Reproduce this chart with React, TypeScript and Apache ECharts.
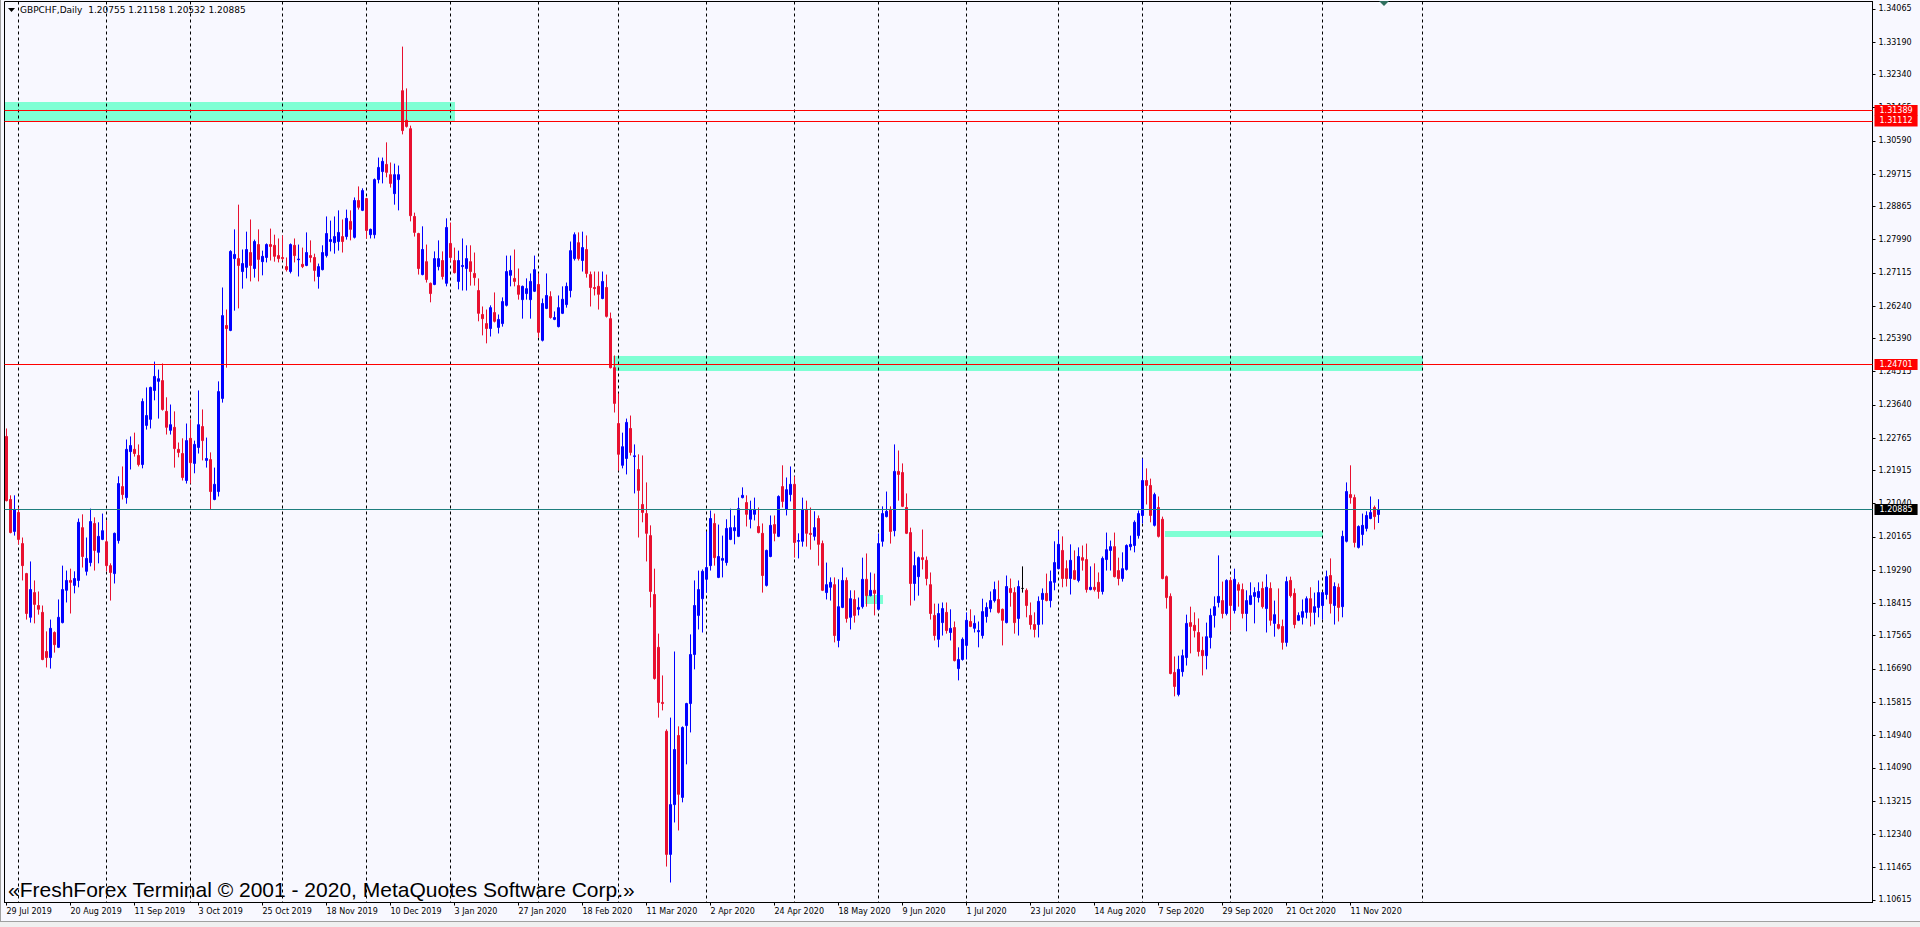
import React, { useEffect, useRef } from 'react';
import * as echarts from 'echarts';

// ---------- texts ----------
const symbolTitle = 'GBPCHF,Daily';
const headerValues = ['1.20755', '1.21158', '1.20532', '1.20885'];
const watermark = '«FreshForex Terminal © 2001 - 2020, MetaQuotes Software Corp.»';

// ---------- time scale ----------
const firstBarDate = '2019-07-29';
const lastBarDate = '2020-11-20';
const skippedDates = ['2019-12-25', '2020-01-01'];
const extraDates = ['2020-10-25'];
const slotCount = 467;
const labelEvery = 16;
const MONTHS = ['Jan', 'Feb', 'Mar', 'Apr', 'May', 'Jun', 'Jul', 'Aug', 'Sep', 'Oct', 'Nov', 'Dec'];

// ---------- price scale ----------
const yMin = 1.10544;
const yMax = 1.34257;
const priceTicks = [
  1.34065, 1.3319, 1.3234, 1.31465, 1.3059, 1.29715, 1.28865, 1.2799, 1.27115, 1.2624,
  1.2539, 1.24515, 1.2364, 1.22765, 1.21915, 1.2104, 1.20165, 1.1929, 1.18415, 1.17565,
  1.1669, 1.15815, 1.1494, 1.1409, 1.13215, 1.1234, 1.11465, 1.10615,
];

// ---------- levels & zones ----------
const redLevels = [1.31389, 1.31112, 1.24701];
const bidLevel = 1.20885;
// [from date, to date, top price, bottom price]
const zones: [string, string, number, number][] = [
  ['2019-07-29', '2020-01-03', 1.316, 1.311],
  ['2020-02-28', '2020-12-01', 1.2494, 1.2452],
  ['2020-09-09', '2020-11-02', 1.2031, 1.2016],
  ['2020-05-27', '2020-06-02', 1.1865, 1.1841],
];

// ---------- candles [open, close, low, high] ----------
const ohlcA = [
  [1.2281,1.2112,1.2110,1.2302],[1.2115,1.2028,1.2026,1.2126],[1.2031,1.2089,1.2020,1.2126],[1.2081,1.2010,1.1997,1.2094],
  [1.1999,1.1941,1.1902,1.2015],[1.1920,1.1815,1.1799,1.1922],[1.1805,1.1878,1.1791,1.1952],[1.1870,1.1839,1.1789,1.1902],
  [1.1836,1.1826,1.1812,1.1873],[1.1818,1.1694,1.1692,1.1836],[1.1715,1.1699,1.1673,1.1768],[1.1699,1.1776,1.1670,1.1799],
  [1.1765,1.1733,1.1712,1.1768],[1.1726,1.1805,1.1724,1.1852],[1.1791,1.1878,1.1789,1.1941],[1.1876,1.1902,1.1844,1.1928],
  [1.1902,1.1897,1.1815,1.1933],[1.1889,1.1907,1.1868,1.1926],[1.1902,1.2055,1.1884,1.2065],[1.2041,1.1965,1.1936,1.2076],
  [1.1926,1.1960,1.1915,1.2015],[1.1949,1.2057,1.1939,1.2091],[1.2052,1.1981,1.1928,1.2068],[1.1976,1.2018,1.1947,1.2055],
  [1.2010,1.2033,1.2008,1.2078],[1.2004,1.1941,1.1926,1.2060],[1.1941,1.1923,1.1849,1.1947],[1.1920,1.2026,1.1894,1.2028],
  [1.2007,1.2157,1.1999,1.2176],[1.2149,1.2128,1.2115,1.2202],[1.2120,1.2247,1.2104,1.2273],[1.2241,1.2257,1.2194,1.2281],
  [1.2247,1.2236,1.2228,1.2291],[1.2231,1.2207,1.2202,1.2260],[1.2207,1.2373,1.2197,1.2381],[1.2310,1.2336,1.2299,1.2410],
  [1.2326,1.2410,1.2302,1.2412],[1.2402,1.2439,1.2376,1.2478],[1.2426,1.2433,1.2328,1.2457],[1.2428,1.2352,1.2349,1.2473],
  [1.2347,1.2305,1.2286,1.2384],[1.2297,1.2312,1.2286,1.2365],[1.2305,1.2249,1.2199,1.2347],[1.2247,1.2239,1.2226,1.2265],
  [1.2236,1.2173,1.2165,1.2276],[1.2165,1.2270,1.2157,1.2315],[1.2276,1.2212,1.2157,1.2326],[1.2210,1.2260,1.2184,1.2270],
  [1.2252,1.2312,1.2236,1.2402],[1.2307,1.2270,1.2218,1.2352],[1.2218,1.2223,1.2199,1.2278],[1.2220,1.2136,1.2089,1.2239],
  [1.2115,1.2155,1.2113,1.2199],[1.2136,1.2399,1.2123,1.2426],[1.2381,1.2599,1.2370,1.2673],[1.2573,1.2565,1.2462,1.2615],
  [1.2560,1.2768,1.2558,1.2771],[1.2749,1.2760,1.2612,1.2826],[1.2749,1.2731,1.2618,1.2891],[1.2715,1.2736,1.2670,1.2773],
  [1.2726,1.2773,1.2697,1.2820],[1.2765,1.2731,1.2689,1.2852],[1.2723,1.2794,1.2699,1.2799],[1.2786,1.2747,1.2689,1.2826],
  [1.2741,1.2755,1.2705,1.2770],[1.2752,1.2786,1.2739,1.2789],[1.2786,1.2781,1.2744,1.2828],[1.2784,1.2755,1.2741,1.2812],
  [1.2757,1.2749,1.2739,1.2802],[1.2752,1.2749,1.2744,1.2810],[1.2728,1.2720,1.2715,1.2752],[1.2715,1.2786,1.2710,1.2789],
  [1.2784,1.2757,1.2739,1.2802],[1.2746,1.2748,1.2702,1.2786],[1.2734,1.2728,1.2724,1.2778],[1.2731,1.2765,1.2729,1.2818],
  [1.2757,1.2752,1.2739,1.2797],[1.2752,1.2718,1.2689,1.2762],[1.2702,1.2728,1.2670,1.2736],[1.2720,1.2765,1.2718,1.2784],
  [1.2757,1.2815,1.2752,1.2860],[1.2794,1.2799,1.2768,1.2849],[1.2791,1.2807,1.2762,1.2860],[1.2794,1.2818,1.2770,1.2876],
  [1.2807,1.2794,1.2765,1.2852],[1.2807,1.2855,1.2799,1.2878],[1.2847,1.2826,1.2797,1.2876],[1.2805,1.2902,1.2802,1.2910],
  [1.2902,1.2884,1.2878,1.2939],[1.2876,1.2928,1.2874,1.2934],[1.2907,1.2823,1.2802,1.2909],[1.2812,1.2826,1.2802,1.2828],
  [1.2812,1.2957,1.2802,1.2960],[1.2957,1.2989,1.2947,1.3015],[1.2978,1.3005,1.2947,1.3015],[1.2997,1.2976,1.2963,1.3055],
  [1.2970,1.2947,1.2936,1.3002],[1.2920,1.2970,1.2891,1.2999],[1.2957,1.2970,1.2876,1.2994],[1.3191,1.3086,1.3076,1.3307],
];
const ohlcB = [
  [1.3113,1.3097,1.3094,1.3197],[1.3091,1.2862,1.2847,1.3099],[1.2860,1.2818,1.2807,1.2870],[1.2815,1.2723,1.2707,1.2817],
  [1.2707,1.2773,1.2705,1.2834],[1.2741,1.2694,1.2686,1.2786],[1.2684,1.2657,1.2634,1.2686],[1.2681,1.2749,1.2679,1.2768],
  [1.2728,1.2749,1.2718,1.2797],[1.2744,1.2702,1.2694,1.2768],[1.2684,1.2831,1.2676,1.2855],[1.2789,1.2752,1.2741,1.2844],
  [1.2744,1.2712,1.2710,1.2778],[1.2689,1.2744,1.2668,1.2770],[1.2728,1.2731,1.2665,1.2802],[1.2723,1.2749,1.2665,1.2784],
  [1.2741,1.2715,1.2678,1.2784],[1.2710,1.2699,1.2678,1.2765],[1.2665,1.2605,1.2584,1.2697],[1.2602,1.2591,1.2547,1.2623],
  [1.2578,1.2565,1.2526,1.2615],[1.2565,1.2620,1.2544,1.2626],[1.2607,1.2584,1.2581,1.2660],[1.2568,1.2589,1.2552,1.2602],
  [1.2578,1.2636,1.2570,1.2647],[1.2626,1.2715,1.2623,1.2757],[1.2705,1.2718,1.2676,1.2757],[1.2697,1.2689,1.2676,1.2773],
  [1.2678,1.2655,1.2641,1.2723],[1.2641,1.2676,1.2591,1.2678],[1.2657,1.2670,1.2641,1.2697],[1.2641,1.2689,1.2591,1.2710],
  [1.2663,1.2720,1.2661,1.2757],[1.2681,1.2555,1.2541,1.2710],[1.2534,1.2631,1.2531,1.2644],[1.2618,1.2652,1.2616,1.2710],
  [1.2649,1.2594,1.2591,1.2663],[1.2589,1.2594,1.2587,1.2610],[1.2570,1.2620,1.2568,1.2652],[1.2605,1.2642,1.2603,1.2676],
  [1.2628,1.2676,1.2620,1.2686],[1.2665,1.2770,1.2647,1.2794],[1.2749,1.2812,1.2744,1.2818],[1.2791,1.2749,1.2744,1.2818],
  [1.2744,1.2778,1.2715,1.2820],[1.2773,1.2710,1.2699,1.2810],[1.2707,1.2673,1.2623,1.2715],[1.2673,1.2670,1.2652,1.2715],
  [1.2676,1.2655,1.2615,1.2715],[1.2644,1.2689,1.2642,1.2715],[1.2673,1.2597,1.2594,1.2707],[1.2591,1.2462,1.2460,1.2607],
  [1.2462,1.2368,1.2344,1.2494],[1.2315,1.2234,1.2191,1.2394],[1.2205,1.2254,1.2197,1.2291],[1.2223,1.2318,1.2181,1.2328],
  [1.2302,1.2239,1.2231,1.2336],[1.2228,1.2230,1.2131,1.2260],[1.2194,1.2139,1.2015,1.2234],[1.2102,1.2081,1.2055,1.2231],
  [1.2078,1.2026,1.1952,1.2160],[1.2020,1.1873,1.1831,1.2047],[1.1865,1.1644,1.1641,1.1933],[1.1726,1.1581,1.1541,1.1762],
  [1.1581,1.1578,1.1560,1.1652],[1.1505,1.1181,1.1149,1.1510],[1.1181,1.1312,1.1107,1.1541],[1.1312,1.1457,1.1265,1.1715],
  [1.1494,1.1339,1.1244,1.1518],[1.1331,1.1515,1.1318,1.1518],[1.1520,1.1578,1.1418,1.1580],[1.1578,1.1707,1.1502,1.1760],
  [1.1707,1.1836,1.1668,1.1902],[1.1810,1.1878,1.1773,1.1928],[1.1854,1.1926,1.1765,1.1931],[1.1905,1.1936,1.1870,1.2031],
  [1.1941,1.2065,1.1928,1.2086],[1.2052,1.1962,1.1941,1.2078],[1.1910,1.1965,1.1908,1.2049],[1.1955,1.1960,1.1910,1.2020],
  [1.1949,1.2039,1.1941,1.2063],[1.2010,1.2041,1.2008,1.2091],[1.2033,1.2041,1.1997,1.2073],[1.2018,1.2091,1.2016,1.2120],
  [1.2120,1.2126,1.2118,1.2147],[1.2107,1.2076,1.2044,1.2126],[1.2063,1.2089,1.2039,1.2112],[1.2076,1.2089,1.2060,1.2120],
  [1.2044,1.2028,1.2026,1.2094],[1.2026,1.1915,1.1870,1.2052],[1.1889,1.1981,1.1886,1.1983],[1.1965,1.2047,1.1963,1.2073],
  [1.2049,1.2026,1.2005,1.2073],[1.2018,1.2123,1.2016,1.2126],[1.2149,1.2110,1.2094,1.2205],[1.2089,1.2141,1.2073,1.2173],
  [1.2128,1.2155,1.2110,1.2202],[1.2155,1.2002,1.1962,1.2176],[1.2005,1.2007,1.1960,1.2026],[1.2005,1.2089,1.1991,1.2120],
];
const ohlcC = [
  [1.2089,1.2026,1.1991,1.2112],[1.2026,1.2023,1.1983,1.2094],[1.2018,1.2041,1.2007,1.2084],[1.2065,1.1997,1.1941,1.2073],
  [1.1999,1.1876,1.1874,1.2007],[1.1870,1.1891,1.1852,1.1949],[1.1884,1.1897,1.1849,1.1910],[1.1891,1.1757,1.1739,1.1910],
  [1.1744,1.1833,1.1726,1.1905],[1.1831,1.1902,1.1829,1.1936],[1.1902,1.1802,1.1791,1.1910],[1.1805,1.1854,1.1773,1.1876],
  [1.1852,1.1810,1.1791,1.1876],[1.1826,1.1831,1.1810,1.1857],[1.1833,1.1905,1.1828,1.1962],[1.1905,1.1862,1.1833,1.1973],
  [1.1862,1.1876,1.1860,1.1923],[1.1876,1.1868,1.1810,1.1920],[1.1826,1.1999,1.1824,1.2026],[1.2005,1.2078,1.1991,1.2097],
  [1.2070,1.2084,1.2068,1.2136],[1.2089,1.2031,1.1999,1.2097],[1.2033,1.2189,1.2018,1.2260],[1.2189,1.2181,1.2112,1.2244],
  [1.2186,1.2097,1.2095,1.2210],[1.2094,1.2026,1.2024,1.2131],[1.2028,1.1894,1.1836,1.2041],[1.1894,1.1941,1.1849,1.1978],
  [1.1912,1.1962,1.1862,1.1965],[1.1962,1.1957,1.1931,1.2036],[1.1955,1.1907,1.1889,1.1965],[1.1891,1.1815,1.1799,1.1923],
  [1.1810,1.1757,1.1744,1.1841],[1.1747,1.1815,1.1726,1.1841],[1.1791,1.1828,1.1757,1.1844],[1.1818,1.1770,1.1762,1.1844],
  [1.1765,1.1776,1.1744,1.1826],[1.1778,1.1691,1.1689,1.1794],[1.1670,1.1694,1.1639,1.1726],[1.1694,1.1747,1.1691,1.1752],
  [1.1731,1.1797,1.1694,1.1818],[1.1794,1.1781,1.1779,1.1826],[1.1776,1.1789,1.1765,1.1810],[1.1767,1.1770,1.1726,1.1794],
  [1.1757,1.1820,1.1749,1.1854],[1.1807,1.1831,1.1791,1.1844],[1.1828,1.1849,1.1818,1.1873],[1.1849,1.1878,1.1844,1.1899],
  [1.1852,1.1818,1.1815,1.1902],[1.1826,1.1797,1.1731,1.1828],[1.1791,1.1886,1.1789,1.1915],[1.1881,1.1870,1.1833,1.1907],
  [1.1870,1.1791,1.1762,1.1884],[1.1802,1.1886,1.1757,1.1902],[1.1881,1.1881,1.1870,1.1939],[1.1876,1.1836,1.1805,1.1881],
  [1.1810,1.1786,1.1773,1.1844],[1.1786,1.1773,1.1752,1.1818],[1.1786,1.1847,1.1752,1.1860],[1.1852,1.1868,1.1786,1.1881],
  [1.1868,1.1849,1.1847,1.1920],[1.1849,1.1899,1.1831,1.1928],[1.1897,1.1949,1.1876,1.2005],[1.1933,1.1997,1.1931,1.2033],
  [1.1981,1.1907,1.1884,1.2018],[1.1933,1.1907,1.1886,1.1955],[1.1907,1.1955,1.1865,1.1997],[1.1928,1.1905,1.1903,1.1981],
  [1.1902,1.1965,1.1897,1.1989],[1.1962,1.1955,1.1928,1.1994],[1.1957,1.1878,1.1870,1.1999],[1.1878,1.1884,1.1876,1.1939],
  [1.1884,1.1878,1.1873,1.1947],[1.1897,1.1873,1.1854,1.1923],[1.1873,1.1960,1.1865,1.1965],[1.1957,1.1983,1.1928,1.2028],
  [1.1981,1.1991,1.1928,1.2007],[1.1991,1.1912,1.1910,1.2028],[1.1928,1.1907,1.1889,1.1962],[1.1907,1.1933,1.1899,1.1976],
  [1.1931,1.1994,1.1928,1.1997],[1.1991,1.1997,1.1981,1.2020],[1.1994,1.2055,1.1976,1.2060],[1.2020,1.2078,1.2012,1.2086],
  [1.2073,1.2165,1.2052,1.2223],[1.2165,1.2152,1.2102,1.2197],[1.2152,1.2073,1.2055,1.2170],[1.2047,1.2128,1.2044,1.2133],
  [1.2094,1.2018,1.2015,1.2123],[1.2063,1.1907,1.1905,1.2070],[1.1912,1.1857,1.1828,1.1915],[1.1860,1.1657,1.1655,1.1868],
  [1.1660,1.1623,1.1597,1.1702],[1.1602,1.1668,1.1597,1.1704],[1.1662,1.1704,1.1649,1.1720],[1.1699,1.1789,1.1678,1.1812],
  [1.1791,1.1781,1.1710,1.1833],[1.1784,1.1770,1.1752,1.1818],[1.1765,1.1715,1.1702,1.1802],[1.1718,1.1704,1.1652,1.1754],
];
const ohlcD = [
  [1.1704,1.1754,1.1668,1.1791],[1.1752,1.1810,1.1723,1.1828],[1.1810,1.1833,1.1778,1.1860],[1.1844,1.1860,1.1831,1.1968],
  [1.1849,1.1815,1.1802,1.1899],[1.1815,1.1902,1.1810,1.1905],[1.1902,1.1836,1.1770,1.1910],[1.1823,1.1905,1.1815,1.1933],
  [1.1891,1.1876,1.1833,1.1897],[1.1878,1.1815,1.1802,1.1894],[1.1815,1.1849,1.1768,1.1876],[1.1839,1.1862,1.1837,1.1897],
  [1.1860,1.1870,1.1789,1.1884],[1.1857,1.1873,1.1844,1.1897],[1.1881,1.1833,1.1828,1.1899],[1.1828,1.1884,1.1765,1.1918],
  [1.1881,1.1797,1.1783,1.1897],[1.1789,1.1812,1.1754,1.1849],[1.1786,1.1776,1.1773,1.1881],[1.1781,1.1739,1.1720,1.1799],
  [1.1739,1.1899,1.1728,1.1912],[1.1902,1.1862,1.1857,1.1912],[1.1868,1.1786,1.1776,1.1881],[1.1797,1.1810,1.1795,1.1818],
  [1.1805,1.1820,1.1786,1.1852],[1.1818,1.1854,1.1802,1.1860],[1.1854,1.1818,1.1781,1.1884],[1.1818,1.1833,1.1786,1.1870],
  [1.1831,1.1870,1.1805,1.1902],[1.1836,1.1870,1.1799,1.1872],[1.1865,1.1912,1.1852,1.1928],[1.1915,1.1841,1.1815,1.1960],
  [1.1836,1.1886,1.1786,1.1897],[1.1884,1.1831,1.1794,1.1894],[1.1833,1.2018,1.1805,1.2033],[1.2005,1.2136,1.2002,1.2160],
  [1.2128,1.2120,1.2104,1.2205],[1.2120,1.2002,1.1989,1.2128],[1.1989,1.2044,1.1986,1.2047],[1.2023,1.2047,1.1994,1.2078],
  [1.2039,1.2073,1.2031,1.2084],[1.2065,1.2081,1.2063,1.2123],[1.2094,1.2070,1.2036,1.2099],[1.20755,1.20885,1.20532,1.21158],
];

const candles = [...ohlcA, ...ohlcB, ...ohlcC, ...ohlcD];

// ---------- helpers ----------
const iso = (d: Date) => d.toISOString().slice(0, 10);
const fmt = (s: string) => {
  const d = new Date(s + 'T00:00:00Z');
  return `${d.getUTCDate()} ${MONTHS[d.getUTCMonth()]} ${d.getUTCFullYear()}`;
};
function buildDates(): string[] {
  const out: string[] = [];
  const d = new Date(firstBarDate + 'T00:00:00Z');
  const end = new Date(lastBarDate + 'T00:00:00Z');
  while (d <= end) {
    const s = iso(d);
    const wd = d.getUTCDay();
    if ((wd >= 1 && wd <= 5 && !skippedDates.includes(s)) || extraDates.includes(s)) out.push(s);
    d.setUTCDate(d.getUTCDate() + 1);
  }
  // the terminal extends the future with calendar days
  while (out.length < slotCount) {
    out.push(iso(d));
    d.setUTCDate(d.getUTCDate() + 1);
  }
  return out;
}

const FONT = '"DejaVu Sans", sans-serif';

export default function App() {
  const ref = useRef<HTMLDivElement>(null);
  useEffect(() => {
    if (!ref.current) return;
    const chart = echarts.init(ref.current, undefined, { renderer: 'svg' });
    const dates = buildDates();
    const n = candles.length;
    const cats = dates.map(fmt);
    const idx = (s: string) => dates.indexOf(s);

    const monthStarts: number[] = [];
    for (let i = 1; i < dates.length; i++) {
      if (dates[i].slice(0, 7) !== dates[i - 1].slice(0, 7)) {
        monthStarts.push(i);
        if (i >= n) break;
      }
    }
    const zoneData = zones.map(([a, b, t, bt]) => [idx(a), idx(b), t, bt]);
    const showLabel = (i: number) => i % labelEvery === 0 && i < n;

    const levelLabel = (txt: string, bg: string) => ({
      show: true,
      position: 'end',
      distance: 2,
      formatter: txt,
      color: '#fff',
      backgroundColor: bg,
      padding: [1, 5, 1, 5],
      fontSize: 8,
      lineHeight: 9,
      fontFamily: FONT,
    });

    chart.setOption({
      animation: false,
      backgroundColor: '#F8F8FF',
      grid: {
        left: 4.5, top: 1.5, width: 1868, height: 901,
        show: true, borderColor: '#000', borderWidth: 1, backgroundColor: '#F8F8FF',
      },
      xAxis: {
        type: 'category',
        data: cats,
        boundaryGap: true,
        axisLine: { show: true, lineStyle: { color: '#000', width: 1 } },
        axisTick: { show: true, alignWithLabel: true, interval: showLabel, length: 3, lineStyle: { color: '#000' } },
        axisLabel: {
          interval: showLabel, align: 'left', margin: 5,
          color: '#000', fontSize: 8, fontFamily: FONT,
        },
        splitLine: { show: false },
      },
      yAxis: {
        type: 'value',
        position: 'right',
        min: yMin,
        max: yMax,
        axisLine: { show: true, lineStyle: { color: '#000', width: 1 } },
        axisTick: { show: true, length: 3, customValues: priceTicks, lineStyle: { color: '#000' } },
        axisLabel: {
          customValues: priceTicks, margin: 6, color: '#000', fontSize: 8, fontFamily: FONT,
          formatter: (v: number) => v.toFixed(5),
        },
        splitLine: { show: false },
      },
      series: [
        {
          type: 'custom',
          z: 1,
          silent: true,
          encode: { x: [0, 1], y: [2, 3] },
          data: zoneData,
          renderItem: (params: any, api: any) => {
            const p0 = api.coord([api.value(0), api.value(2)]);
            const p1 = api.coord([api.value(1), api.value(3)]);
            const half = api.size([1, 0])[0] / 2;
            const cs = params.coordSys;
            const left = Math.max(Math.ceil(cs.x), Math.round(p0[0] - half));
            const right = Math.round(p1[0]);
            const top = Math.round(p0[1]);
            const bottom = Math.round(p1[1]);
            return {
              type: 'rect',
              shape: { x: left, y: top, width: right - left, height: bottom - top },
              style: { fill: '#7FFFD4' },
            };
          },
        },
        {
          type: 'custom',
          z: 1,
          silent: true,
          encode: { x: 0 },
          data: monthStarts.map((i) => [i]),
          renderItem: (params: any, api: any) => {
            const cs = params.coordSys;
            const x = Math.floor(api.coord([api.value(0), yMin])[0]) + 0.5;
            return {
              type: 'line',
              shape: { x1: x, y1: cs.y, x2: x, y2: cs.y + cs.height },
              style: { stroke: '#000', lineWidth: 1, lineDash: [3, 3] },
            };
          },
        },
        {
          type: 'candlestick',
          z: 2,
          barWidth: 2,
          data: candles,
          itemStyle: {
            color: '#0000FF',
            color0: '#E81030',
            borderColor: '#0000FF',
            borderColor0: '#E81030',
            borderColorDoji: '#000000',
            borderWidth: 1,
          },
          markLine: {
            silent: true,
            symbol: ['none', 'none'],
            precision: 5,
            animation: false,
            data: [
              ...redLevels.map((v) => ({
                yAxis: v,
                lineStyle: { color: '#FF0000', width: 1, type: 'solid' },
                label: levelLabel(v.toFixed(5), '#FF0000'),
              })),
              {
                yAxis: bidLevel,
                lineStyle: { color: '#1E7E7E', width: 1, type: 'solid' },
                label: levelLabel(bidLevel.toFixed(5), '#000000'),
              },
            ],
          },
        },
      ],
      graphic: [
        { type: 'rect', silent: true, shape: { x: 0, y: 0, width: 1, height: 921 }, style: { fill: '#A0A0A0' } },
        {
          type: 'polygon', silent: true,
          shape: { points: [[8, 8], [15, 8], [11.5, 12]] }, style: { fill: '#000' },
        },
        {
          type: 'text', silent: true, x: 20, y: 10,
          style: {
            text: `${symbolTitle}  ${headerValues.join(' ')}`,
            fill: '#000', font: `9px ${FONT}`, verticalAlign: 'middle',
          },
        },
        {
          type: 'polygon', silent: true,
          shape: { points: [[1379, 1], [1389, 1], [1384, 6]] }, style: { fill: '#2F6F5F' },
        },
        {
          type: 'text', silent: true, x: 8, y: 889,
          style: {
            text: watermark, fill: '#000',
            font: '21px "Liberation Sans", Arial, sans-serif', verticalAlign: 'middle',
          },
        },
        { type: 'rect', silent: true, shape: { x: 0, y: 921, width: 1920, height: 6 }, style: { fill: '#F0F0F0' } },
        { type: 'line', silent: true, shape: { x1: 0, y1: 921.5, x2: 1920, y2: 921.5 }, style: { stroke: '#A0A0A0', lineWidth: 1 } },
      ],
    });
    return () => chart.dispose();
  }, []);
  return (
    <div style={{ position: 'fixed', left: 0, top: 0, width: 1920, height: 927, background: '#F8F8FF' }}>
      <div ref={ref} style={{ width: 1920, height: 927 }} />
    </div>
  );
}
